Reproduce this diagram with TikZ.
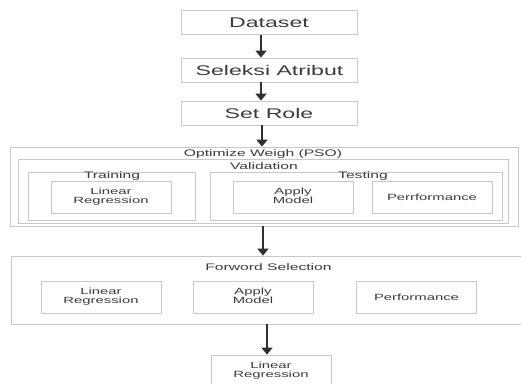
\documentclass[tikz,border=0pt]{standalone}
\usepackage{fontspec}
\setmainfont{Liberation Sans}
\usetikzlibrary{arrows.meta}
\definecolor{boxgray}{HTML}{C8C8C8}
\definecolor{txt}{HTML}{3C3C3C}
\definecolor{arr}{HTML}{303030}
\newcommand{\hs}[1]{\scalebox{1.65}[1]{#1}}
\newcommand{\two}[2]{\hs{\begin{tabular}{@{}c@{}}#1\\#2\end{tabular}}}
\begin{document}
\begin{tikzpicture}[x=1pt,y=-1pt,
  bx/.style={draw=boxgray, line width=0.8pt, inner sep=0pt, text=txt},
  big/.style={bx, minimum width=176pt, minimum height=24pt, font=\fontsize{14}{14}\selectfont},
  small/.style={bx, minimum width=120pt, minimum height=32pt, font=\fontsize{9}{9}\selectfont},
  lbl/.style={inner sep=0pt, text=txt, font=\fontsize{9.5}{9.5}\selectfont},
  arrowline/.style={draw=arr, line width=1.8pt, -{Triangle[width=11pt,length=7pt]}}]
\useasboundingbox[fill=white] (0,0) rectangle (521,383);

% top chain
\node[big] (dataset) at (269,22.5) {\hs{Dataset}};
\node[big] (seleksi) at (269.5,70) {\hs{Seleksi Atribut}};
\node[big] (setrole) at (269,113) {\hs{Set Role}};

% PSO block
\node[bx, minimum width=508pt, minimum height=79pt] (pso) at (264,186.5) {};
\node[bx, minimum width=490pt, minimum height=64pt] (valid) at (263,191) {};
\node[bx, minimum width=167pt, minimum height=48pt] (train) at (111.5,196) {};
\node[bx, minimum width=292pt, minimum height=48pt] (test) at (356,196) {};
\node[lbl] (psolbl) at (263,154.5) {\hs{Optimize Weigh (PSO)}};
\node[lbl] (validlbl) at (264,166.5) {\hs{Validation}};
\node[lbl] (trainlbl) at (112,176) {\hs{Training}};
\node[lbl] (testlbl) at (363,176) {\hs{Testing}};
\node[small] (lrA) at (111,197) {\two{Linear}{Regression}};
\node[small] (applyA) at (293,197) {\two{Apply}{Model}};
\node[small] (perfA) at (432,197) {\hs{Perrformance}};

% Forward selection block
\node[bx, minimum width=529pt, minimum height=68pt] (fs) at (275.5,290) {};
\node[lbl] (fslbl) at (268.5,267.5) {\hs{Forword Selection}};
\node[small] (lrB) at (101,297) {\two{Linear}{Regression}};
\node[small] (applyB) at (253,297) {\two{Apply}{Model}};
\node[small] (perfB) at (416.5,297) {\hs{Performance}};

% final
\node[small] (lrC) at (271,371) {\two{Linear}{Regression}};

% arrows
\draw[arrowline] ([xshift=-8pt]dataset.south) -- ([xshift=-8.5pt]seleksi.north);
\draw[arrowline] ([xshift=-8.5pt]seleksi.south) -- ([xshift=-8pt]setrole.north);
\draw[arrowline] ([xshift=-7pt]setrole.south) -- ([xshift=-2pt]pso.north);
\draw[arrowline] ([xshift=-1pt]pso.south) -- ([xshift=-12.5pt]fs.north);
\draw[arrowline] ([xshift=-8.5pt]fs.south) -- ([xshift=-4pt]lrC.north);
\end{tikzpicture}
\end{document}
